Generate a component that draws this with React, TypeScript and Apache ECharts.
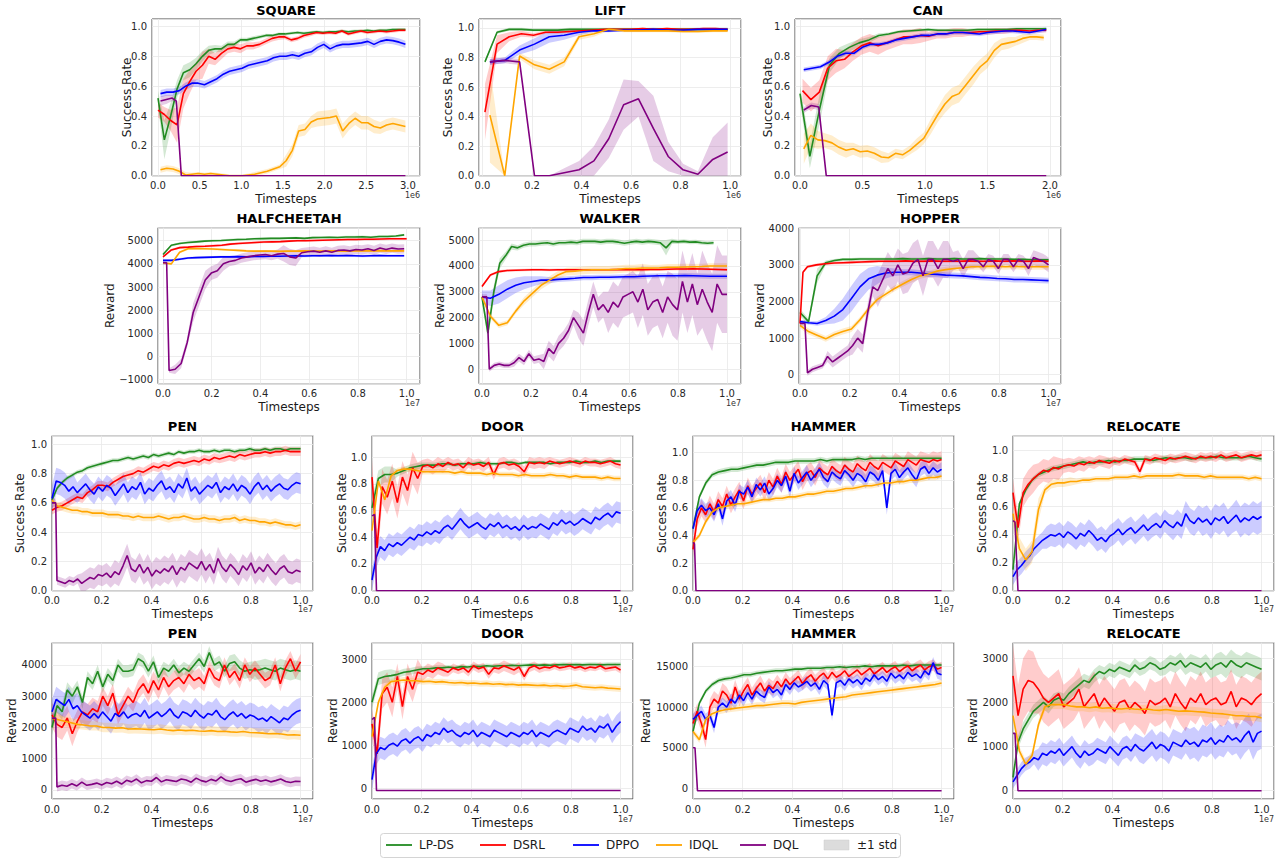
import { useEffect, useRef } from "react";
import * as echarts from "echarts";

const FONT = "'DejaVu Sans', 'Liberation Sans', sans-serif";

const METHODS = ["LP-DS", "DSRL", "DPPO", "IDQL", "DQL"];
const METHOD_COLORS = ["#228b22", "#ff0000", "#0000ff", "#ffa500", "#800080"];
const BAND_COLORS = ["rgba(34,139,34,0.2)", "rgba(255,0,0,0.2)", "rgba(0,0,255,0.2)", "rgba(255,165,0,0.2)", "rgba(128,0,128,0.2)"];

// evaluation checkpoints, evenly spaced between the first and last one
function steps(a: number, b: number, n: number): number[] {
  const out: number[] = [];
  for (let i = 0; i < n; i++) out.push(a + ((b - a) * i) / (n - 1));
  return out;
}

/* ---------------- SQUARE (timesteps x1e6) ---------------- */
const squareLpds = [0.52, 0.24, 0.4, 0.58, 0.69, 0.71, 0.75, 0.8, 0.84, 0.85, 0.85, 0.88, 0.88, 0.91, 0.91, 0.92, 0.93, 0.94, 0.94, 0.95, 0.95, 0.955, 0.96, 0.955, 0.96, 0.965, 0.96, 0.965, 0.965, 0.97, 0.965, 0.97, 0.97, 0.975, 0.97, 0.975, 0.975, 0.98, 0.98, 0.98];
const squareLpdsSd = [0.05, 0.13, 0.09, 0.06, 0.05, 0.05, 0.04, 0.035, 0.03, 0.025, 0.02, 0.02, 0.02, 0.015, 0.015, 0.015, 0.012, 0.012, 0.01, 0.01, 0.01, 0.01, 0.01, 0.01, 0.01, 0.01, 0.01, 0.01, 0.01, 0.01, 0.01, 0.01, 0.01, 0.01, 0.01, 0.01, 0.01, 0.01, 0.01, 0.01];
const squareDsrl = [0.44, 0.41, 0.37, 0.34, 0.55, 0.63, 0.7, 0.74, 0.8, 0.78, 0.82, 0.85, 0.86, 0.85, 0.87, 0.87, 0.88, 0.9, 0.92, 0.93, 0.93, 0.91, 0.92, 0.94, 0.95, 0.96, 0.955, 0.96, 0.955, 0.97, 0.95, 0.96, 0.97, 0.96, 0.965, 0.97, 0.965, 0.97, 0.975, 0.975];
const squareDsrlSd = [0.05, 0.05, 0.07, 0.12, 0.1, 0.08, 0.06, 0.09, 0.05, 0.04, 0.04, 0.03, 0.03, 0.03, 0.025, 0.025, 0.02, 0.02, 0.02, 0.02, 0.015, 0.015, 0.015, 0.015, 0.015, 0.012, 0.012, 0.012, 0.012, 0.012, 0.012, 0.012, 0.012, 0.012, 0.012, 0.012, 0.012, 0.012, 0.012, 0.012];
const squareDppo = [0.55, 0.56, 0.56, 0.57, 0.6, 0.62, 0.62, 0.61, 0.63, 0.65, 0.68, 0.7, 0.71, 0.72, 0.74, 0.75, 0.76, 0.77, 0.79, 0.8, 0.8, 0.81, 0.8, 0.82, 0.83, 0.86, 0.88, 0.85, 0.87, 0.88, 0.88, 0.885, 0.89, 0.9, 0.88, 0.9, 0.91, 0.905, 0.895, 0.88];
const squareDppoSd = [0.025];
const squareIdql = [0.04, 0.05, 0.045, 0.03, 0.005, 0.01, 0.015, 0.01, 0.015, 0.01, 0.005, 0, 0, 0, 0.005, 0.01, 0.02, 0.03, 0.045, 0.06, 0.1, 0.17, 0.3, 0.31, 0.36, 0.38, 0.385, 0.39, 0.4, 0.3, 0.35, 0.385, 0.355, 0.355, 0.33, 0.32, 0.34, 0.35, 0.34, 0.33];
const squareIdqlSd = [0.02, 0.01, 0.01, 0.015, 0.04, 0.05, 0.045, 0.04];
const squareDqlX = [0.03, 0.1, 0.17, 0.22, 0.28, 2.97];
const squareDql = [0.5, 0.51, 0.52, 0.5, 0, 0];
const squareDqlSd = [0.03, 0.03, 0.02, 0.02, 0, 0];

/* ---------------- LIFT (x1e6) ---------------- */
const liftLpds = [0.77, 0.97, 0.99, 0.99, 0.985, 0.985, 0.985, 0.99, 0.99, 0.99, 0.99, 0.99, 0.99, 0.99, 0.99, 0.99, 0.99, 0.99, 0.99, 0.99, 0.99];
const liftLpdsSd = [0.01];
const liftDsrl = [0.43, 0.89, 0.94, 0.96, 0.95, 0.97, 0.97, 0.975, 0.98, 0.985, 0.99, 0.99, 0.99, 0.995, 0.99, 0.995, 0.99, 0.99, 0.995, 0.995, 0.99];
const liftDsrlSd = [0.19, 0.06, 0.03, 0.02, 0.015, 0.01, 0.01, 0.01, 0.008, 0.008, 0.005, 0.005, 0.005, 0.005, 0.005, 0.005, 0.005, 0.005, 0.005, 0.005, 0.005];
const liftDppo = [0.77, 0.78, 0.85, 0.89, 0.94, 0.95, 0.97, 0.98, 0.98, 0.985, 0.985, 0.99, 0.985, 0.985, 0.99, 0.99, 0.99];
const liftDppoSd = [0.02, 0.02, 0.03, 0.04, 0.04, 0.03, 0.02, 0.01, 0.01, 0.01, 0.01, 0.01, 0.01, 0.01, 0.01, 0.01, 0.01];
const liftIdql = [0.41, 0, 0.81, 0.75, 0.72, 0.77, 0.94, 0.96, 0.99, 0.98, 0.98, 0.98, 0.98, 0.975, 0.975, 0.98, 0.98];
const liftIdqlSd = [0.32, 0, 0.02, 0.03, 0.03, 0.03, 0.02, 0.02, 0.01, 0.01, 0.01, 0.01, 0.01, 0.01, 0.01, 0.01, 0.01];
const liftDql = [0.77, 0.78, 0.77, 0, 0, 0.02, 0.04, 0.1, 0.25, 0.48, 0.52, 0.32, 0.13, 0.04, 0.01, 0.11, 0.16];
const liftDqlSd = [0.02, 0.02, 0.02, 0, 0, 0.03, 0.06, 0.1, 0.13, 0.17, 0.12, 0.22, 0.1, 0.04, 0.02, 0.15, 0.2];

/* ---------------- CAN (x1e6) ---------------- */
const canLpds = [0.55, 0.13, 0.45, 0.74, 0.82, 0.86, 0.89, 0.91, 0.94, 0.95, 0.965, 0.97, 0.975, 0.98, 0.975, 0.975, 0.975, 0.975, 0.98, 0.98, 0.98, 0.98, 0.985, 0.985, 0.985, 0.985];
const canLpdsSd = [0.06, 0.08, 0.1, 0.05, 0.04, 0.03, 0.025, 0.02, 0.015, 0.01, 0.01, 0.01, 0.01, 0.01, 0.01, 0.01, 0.01, 0.01, 0.01, 0.01, 0.01, 0.01, 0.01, 0.01, 0.01, 0.01];
const canDsrl = [0.57, 0.51, 0.56, 0.72, 0.77, 0.78, 0.83, 0.87, 0.89, 0.87, 0.89, 0.91, 0.93, 0.93, 0.94, 0.935, 0.95, 0.95, 0.96, 0.96, 0.96, 0.965, 0.965, 0.97, 0.97, 0.975, 0.975, 0.97, 0.975, 0.975];
const canDsrlSd = [0.08, 0.06, 0.05, 0.03, 0.02, 0.015];
const canDppo = [0.71, 0.72, 0.73, 0.76, 0.8, 0.82, 0.82, 0.86, 0.88, 0.88, 0.89, 0.91, 0.92, 0.93, 0.94, 0.94, 0.95, 0.95, 0.96, 0.96, 0.955, 0.95, 0.96, 0.965, 0.97, 0.97, 0.965, 0.96, 0.97, 0.98];
const canDppoSd = [0.015];
const canIdql = [0.18, 0.27, 0.24, 0.235, 0.22, 0.19, 0.17, 0.18, 0.16, 0.165, 0.15, 0.125, 0.12, 0.15, 0.14, 0.17, 0.21, 0.25, 0.33, 0.41, 0.48, 0.53, 0.55, 0.61, 0.67, 0.73, 0.77, 0.84, 0.88, 0.89, 0.9, 0.92, 0.93, 0.93, 0.925];
const canIdqlSd = [0.1, 0.08, 0.06, 0.05, 0.05, 0.05, 0.05, 0.04, 0.04, 0.04, 0.04, 0.04, 0.03, 0.03, 0.03, 0.03, 0.04, 0.04, 0.05, 0.05, 0.06, 0.06, 0.06, 0.06, 0.06, 0.05, 0.05, 0.05, 0.04, 0.04, 0.03, 0.03, 0.02, 0.02, 0.02];
const canDqlX = [0.03, 0.09, 0.15, 0.21, 1.97];
const canDql = [0.44, 0.47, 0.46, 0, 0];
const canDqlSd = [0.02, 0.02, 0.02, 0, 0];

/* ---------------- HALFCHEETAH (x1e7) ---------------- */
const cheetahLpds = [4400, 4800, 4880, 4920, 4950, 4980, 5000, 5010, 5030, 5050, 5060, 5080, 5090, 5100, 5100, 5110, 5120, 5100, 5130, 5140, 5150, 5140, 5160, 5160, 5170, 5150, 5180, 5180, 5200, 5250];
const cheetahDsrl = [4300, 4600, 4700, 4720, 4750, 4760, 4780, 4800, 4850, 4880, 4900, 4920, 4940, 4950, 4960, 4980, 5000, 5000, 5010, 5020, 5030, 5040, 5050, 5050, 5060, 5060, 5070, 5080, 5080, 5080];
const cheetahDppo = [4150, 4150, 4200, 4250, 4270, 4280, 4290, 4300, 4300, 4310, 4300, 4320, 4320, 4330, 4330, 4340, 4350, 4340, 4350, 4350, 4360, 4350, 4360, 4350, 4340, 4350, 4360, 4350, 4350, 4350];
const cheetahIdql = [4050, 4000, 4500, 4650, 4660, 4650, 4640, 4620, 4600, 4580, 4560, 4550, 4550, 4550, 4540, 4550, 4550, 4560, 4550, 4550, 4560, 4560, 4550, 4560, 4560, 4560, 4570, 4560, 4560, 4560];
const cheetahSmallSd = [50];
const cheetahDqlX = [0, 0.015, ...steps(0.025, 0.99, 40)];
const cheetahDql = [4050, 4050, -600, -550, -300, 600, 1900, 2600, 3300, 3600, 3700, 4000, 4100, 4150, 4250, 4300, 4350, 4380, 4400, 4350, 4420, 4450, 4300, 4250, 4480, 4520, 4550, 4500, 4560, 4500, 4580, 4600, 4560, 4620, 4600, 4650, 4580, 4680, 4620, 4680, 4640, 4650];
const cheetahDqlSd = [100, 200, 400, 300, 200, 200, 200, 350, 200, 200, 200, 200, 200, 200];

/* ---------------- WALKER (x1e7) ---------------- */
const walkerLpds = [2800, 1400, 3000, 4100, 4400, 4750, 4700, 4800, 4850, 4850, 4880, 4900, 4850, 4900, 4900, 4920, 4900, 4950, 4950, 4950, 4920, 4950, 4950, 4920, 4880, 4920, 4950, 4920, 4950, 4930, 4900, 4700, 4950, 4930, 4950, 4920, 4930, 4900, 4880, 4900];
const walkerLpdsSd = [150, 300, 250, 200, 150, 120, 100, 100, 100, 100, 100, 100, 100, 100, 100, 100, 100, 100, 100, 100, 100, 100, 100, 100, 100, 100, 100, 100, 100, 100, 100, 300, 100, 80, 80, 80, 80, 80, 80, 80];
const walkerDsrl = [3200, 3650, 3780, 3820, 3830, 3840, 3850, 3850, 3840, 3850, 3850, 3850, 3840, 3850, 3850, 3850, 3860, 3850, 3850, 3850, 3860, 3860, 3870, 3880, 3880, 3890, 3880, 3870, 3860, 3850];
const walkerDsrlSd = [50];
const walkerDppo = [2800, 2750, 2900, 3100, 3250, 3350, 3400, 3450, 3450, 3480, 3500, 3520, 3550, 3550, 3560, 3560, 3570, 3580, 3580, 3600, 3610, 3620, 3620, 3620, 3630, 3620, 3610, 3600, 3600, 3600];
const walkerDppoSd = [250, 300, 350, 350, 300, 250, 200, 150, 120, 100, 100, 100, 100, 100, 100, 100, 100, 100, 100, 100, 100, 100, 100, 100, 100, 100, 100, 100, 100, 100];
const walkerIdql = [2800, 2050, 1700, 1800, 2250, 2650, 2950, 3250, 3450, 3650, 3780, 3800, 3830, 3850, 3850, 3850, 3870, 3900, 3900, 3920, 3920, 3930, 3950, 3950, 3960, 3970, 3980, 4000, 4000, 4000];
const walkerIdqlSd = [100, 150, 150, 150, 120, 100];
const walkerDqlX = [0, 0.02, ...steps(0.03, 1.0, 49)];
const walkerDql = [2800, 2800, 0, 150, 200, 150, 150, 250, 450, 300, 600, 350, 400, 300, 800, 600, 1000, 1200, 1500, 2000, 1700, 1400, 2200, 2900, 2300, 2500, 2200, 2600, 2400, 2800, 2900, 3000, 2600, 3100, 2300, 2600, 2700, 2200, 2800, 2500, 2300, 3400, 2600, 3300, 2500, 3100, 2600, 2200, 3300, 2900, 2900];
const walkerDqlSd = [100, 150, 300, 500, 800, 1000, 1200, 1500];

/* ---------------- HOPPER (x1e7) ---------------- */
const hopperLpds = [1700, 1450, 2700, 3060, 3120, 3150, 3150, 3160, 3160, 3160, 3160, 3160, 3170, 3160, 3160, 3170, 3160, 3160, 3170, 3160, 3160, 3170, 3160, 3160, 3160, 3150, 3150, 3140, 3140, 3140];
const hopperLpdsSd = [100, 80, 200, 60, 40, 40, 40, 40, 40, 40, 40, 40, 40, 40, 40, 40, 40, 40, 40, 40, 40, 40, 40, 40, 40, 40, 40, 40, 40, 40];
const hopperDsrlX = [0, 0.012, ...steps(0.03, 1.0, 28)];
const hopperDsrl = [1400, 2800, 2950, 3000, 3030, 3050, 3060, 3070, 3080, 3090, 3100, 3100, 3100, 3110, 3100, 3100, 3110, 3100, 3100, 3100, 3110, 3100, 3100, 3110, 3100, 3110, 3100, 3100, 3110, 3100];
const hopperDsrlSd = [40];
const hopperDppo = [1450, 1420, 1400, 1480, 1600, 1780, 2080, 2400, 2620, 2720, 2780, 2800, 2800, 2800, 2780, 2750, 2740, 2720, 2710, 2700, 2680, 2660, 2650, 2630, 2620, 2600, 2600, 2590, 2580, 2570];
const hopperDppoSd = [50, 50, 60, 100, 200, 300, 350, 350, 300, 250, 150, 100, 80, 80, 80, 80, 80, 80, 80, 80, 80, 80, 80, 80, 80, 80, 80, 80, 80, 80];
const hopperIdql = [1350, 1180, 1080, 980, 1100, 1180, 1250, 1500, 1800, 2050, 2200, 2350, 2480, 2600, 2700, 2750, 2830, 2870, 2900, 2920, 2950, 2950, 2960, 2960, 2950, 2960, 2950, 2950, 2950, 2950];
const hopperIdqlSd = [80];
const hopperDqlX = [0, 0.02, ...steps(0.03, 1.0, 49)];
const hopperDql = [1400, 1400, 50, 150, 200, 250, 500, 350, 450, 550, 650, 800, 1000, 850, 1700, 2400, 2300, 2600, 2900, 2700, 3000, 2750, 2800, 3050, 3150, 2700, 3150, 3150, 2900, 3150, 3150, 3100, 3150, 2900, 3150, 3150, 3100, 2950, 3150, 3100, 2900, 3150, 3150, 2950, 3150, 3100, 2900, 3200, 3150, 3100, 3000];
const hopperDqlSd = [80, 150, 250, 450, 550, 500, 250, 150, 150, 200];

/* ---------------- PEN success (x1e7) ---------------- */
const penSrLpds = [0.62, 0.7, 0.74, 0.77, 0.79, 0.81, 0.82, 0.84, 0.85, 0.86, 0.87, 0.88, 0.89, 0.89, 0.9, 0.91, 0.9, 0.91, 0.92, 0.91, 0.93, 0.92, 0.93, 0.94, 0.93, 0.95, 0.94, 0.95, 0.95, 0.96, 0.95, 0.95, 0.96, 0.95, 0.96, 0.96, 0.95, 0.96, 0.96, 0.97, 0.96, 0.96, 0.97, 0.96, 0.97, 0.97, 0.96, 0.97, 0.97, 0.97];
const penSrDsrl = [0.55, 0.57, 0.58, 0.6, 0.62, 0.64, 0.63, 0.67, 0.69, 0.72, 0.72, 0.71, 0.74, 0.76, 0.78, 0.79, 0.8, 0.82, 0.81, 0.83, 0.85, 0.84, 0.86, 0.85, 0.87, 0.88, 0.87, 0.88, 0.89, 0.88, 0.9, 0.89, 0.91, 0.9, 0.91, 0.92, 0.91, 0.93, 0.92, 0.93, 0.94, 0.94, 0.95, 0.94, 0.95, 0.95, 0.96, 0.95, 0.95, 0.95];
const penSrDppo = [0.63, 0.75, 0.74, 0.72, 0.68, 0.71, 0.67, 0.7, 0.73, 0.69, 0.66, 0.71, 0.68, 0.72, 0.7, 0.65, 0.69, 0.73, 0.67, 0.71, 0.69, 0.74, 0.66, 0.7, 0.68, 0.72, 0.75, 0.69, 0.71, 0.67, 0.73, 0.7, 0.77, 0.68, 0.71, 0.66, 0.69, 0.72, 0.7, 0.74, 0.67, 0.71, 0.69, 0.73, 0.68, 0.72, 0.7, 0.66, 0.71, 0.74, 0.69, 0.72, 0.68, 0.71, 0.73, 0.7, 0.69, 0.72, 0.74, 0.73];
const penSrIdql = [0.62, 0.58, 0.57, 0.56, 0.55, 0.55, 0.54, 0.54, 0.53, 0.53, 0.53, 0.52, 0.52, 0.52, 0.51, 0.51, 0.5, 0.51, 0.5, 0.5, 0.5, 0.51, 0.5, 0.49, 0.5, 0.5, 0.51, 0.5, 0.49, 0.49, 0.5, 0.49, 0.49, 0.48, 0.49, 0.49, 0.5, 0.48, 0.49, 0.48, 0.48, 0.47, 0.47, 0.46, 0.47, 0.46, 0.45, 0.45, 0.44, 0.45];
const penSrDqlX = [0, 0.015, ...steps(0.02, 1.0, 60)];
const penSrDql = [0.6, 0.6, 0.07, 0.06, 0.05, 0.07, 0.06, 0.08, 0.05, 0.07, 0.09, 0.08, 0.11, 0.1, 0.12, 0.09, 0.13, 0.11, 0.17, 0.24, 0.15, 0.13, 0.18, 0.12, 0.16, 0.1, 0.14, 0.12, 0.15, 0.13, 0.17, 0.11, 0.16, 0.14, 0.19, 0.17, 0.15, 0.2, 0.14, 0.18, 0.12, 0.22, 0.16, 0.13, 0.18, 0.15, 0.11, 0.17, 0.14, 0.19, 0.12, 0.16, 0.13, 0.18, 0.14, 0.11, 0.15, 0.17, 0.13, 0.12, 0.14, 0.13];

/* ---------------- DOOR success (x1e7) ---------------- */
const doorSrLpds = [0.62, 0.84, 0.87, 0.87, 0.88, 0.9, 0.92, 0.93, 0.94, 0.94, 0.94, 0.95, 0.95, 0.94, 0.95, 0.95, 0.95, 0.96, 0.95, 0.95, 0.95, 0.96, 0.96, 0.95, 0.96, 0.96, 0.96, 0.96, 0.95, 0.96, 0.96, 0.96, 0.97, 0.96, 0.96, 0.97, 0.96, 0.97, 0.97, 0.97];
const doorSrLpdsSd = [0.06, 0.025, 0.02, 0.015, 0.015, 0.012, 0.012, 0.012, 0.012, 0.012];
const doorSrDsrl = [0.85, 0.32, 0.78, 0.7, 0.82, 0.66, 0.85, 0.75, 0.92, 0.84, 0.93, 0.94, 0.92, 0.95, 0.93, 0.96, 0.94, 0.95, 0.92, 0.96, 0.94, 0.95, 0.93, 0.96, 0.87, 0.95, 0.96, 0.94, 0.95, 0.93, 0.89, 0.96, 0.95, 0.96, 0.95, 0.97, 0.96, 0.95, 0.96, 0.97, 0.96, 0.95, 0.97, 0.96, 0.96, 0.95, 0.96, 0.97, 0.95, 0.94];
const doorSrDsrlSd = [0.13, 0.12, 0.05, 0.04, 0.04, 0.04, 0.04, 0.03, 0.03, 0.03];
const doorSrDppo = [0.08, 0.25, 0.33, 0.3, 0.35, 0.33, 0.36, 0.34, 0.37, 0.4, 0.38, 0.42, 0.41, 0.44, 0.42, 0.45, 0.43, 0.47, 0.49, 0.46, 0.5, 0.54, 0.5, 0.47, 0.49, 0.51, 0.48, 0.46, 0.5, 0.48, 0.51, 0.47, 0.49, 0.46, 0.48, 0.45, 0.49, 0.46, 0.48, 0.47, 0.5, 0.48, 0.46, 0.51, 0.49, 0.53, 0.5, 0.52, 0.49, 0.51, 0.54, 0.52, 0.5, 0.55, 0.53, 0.56, 0.58, 0.55, 0.59, 0.58];
const doorSrIdql = [0.45, 0.82, 0.68, 0.86, 0.9, 0.91, 0.91, 0.9, 0.89, 0.89, 0.89, 0.89, 0.89, 0.88, 0.89, 0.88, 0.88, 0.88, 0.87, 0.88, 0.87, 0.87, 0.87, 0.86, 0.87, 0.86, 0.86, 0.86, 0.87, 0.86, 0.86, 0.85, 0.86, 0.85, 0.85, 0.85, 0.84, 0.85, 0.84, 0.84];
const doorSrDqlX = [0, 0.01, 0.018, 1.0];
const doorSrDql = [0.56, 0.57, 0, 0];

/* ---------------- HAMMER success (x1e7) ---------------- */
const hammerSrLpds = [0.45, 0.68, 0.78, 0.84, 0.86, 0.87, 0.88, 0.88, 0.89, 0.9, 0.91, 0.91, 0.92, 0.93, 0.93, 0.93, 0.94, 0.94, 0.94, 0.94, 0.95, 0.94, 0.95, 0.95, 0.95, 0.95, 0.96, 0.95, 0.96, 0.96, 0.96, 0.96, 0.96, 0.96, 0.96, 0.96, 0.96, 0.96, 0.96, 0.96];
const hammerSrDsrl = [0.3, 0.52, 0.6, 0.55, 0.63, 0.57, 0.66, 0.61, 0.7, 0.62, 0.68, 0.73, 0.65, 0.76, 0.7, 0.74, 0.78, 0.71, 0.8, 0.75, 0.83, 0.77, 0.86, 0.8, 0.84, 0.88, 0.79, 0.85, 0.87, 0.82, 0.89, 0.86, 0.84, 0.9, 0.87, 0.85, 0.91, 0.88, 0.86, 0.92, 0.89, 0.87, 0.93, 0.9, 0.88, 0.93, 0.91, 0.89, 0.94, 0.92, 0.9, 0.95, 0.93, 0.91, 0.95, 0.94, 0.93, 0.95, 0.94, 0.95];
const hammerSrDppo = [0.45, 0.58, 0.62, 0.58, 0.6, 0.55, 0.63, 0.52, 0.65, 0.68, 0.62, 0.72, 0.7, 0.75, 0.68, 0.77, 0.73, 0.78, 0.7, 0.74, 0.8, 0.76, 0.83, 0.72, 0.85, 0.78, 0.82, 0.86, 0.8, 0.84, 0.88, 0.82, 0.79, 0.86, 0.83, 0.81, 0.87, 0.84, 0.8, 0.85, 0.83, 0.79, 0.86, 0.84, 0.8, 0.87, 0.6, 0.85, 0.88, 0.82, 0.86, 0.89, 0.84, 0.8, 0.88, 0.9, 0.85, 0.89, 0.86, 0.88];
const hammerSrIdql = [0.35, 0.4, 0.5, 0.57, 0.6, 0.61, 0.62, 0.63, 0.63, 0.64, 0.65, 0.66, 0.66, 0.67, 0.67, 0.68, 0.68, 0.69, 0.7, 0.7, 0.71, 0.72, 0.72, 0.73, 0.74, 0.74, 0.75, 0.76, 0.76, 0.77, 0.78, 0.78, 0.79, 0.79, 0.8, 0.8, 0.81, 0.82, 0.82, 0.83];
const hammerSrDqlX = [0, 0.006, 0.012, 1.0];
const hammerSrDql = [0.35, 0.34, 0, 0];

/* ---------------- RELOCATE success (x1e7) ---------------- */
const relocSrLpds = [0.15, 0.62, 0.72, 0.79, 0.83, 0.85, 0.87, 0.88, 0.89, 0.9, 0.91, 0.92, 0.91, 0.92, 0.92, 0.93, 0.92, 0.93, 0.93, 0.94, 0.94, 0.94, 0.93, 0.94, 0.95, 0.94, 0.95, 0.95, 0.94, 0.95, 0.95, 0.95, 0.96, 0.95, 0.95, 0.95, 0.95, 0.96, 0.95, 0.94];
const relocSrDsrl = [0.7, 0.45, 0.7, 0.76, 0.8, 0.83, 0.86, 0.85, 0.88, 0.87, 0.89, 0.9, 0.89, 0.91, 0.9, 0.92, 0.91, 0.93, 0.92, 0.91, 0.93, 0.92, 0.94, 0.93, 0.92, 0.85, 0.94, 0.93, 0.95, 0.94, 0.93, 0.95, 0.94, 0.95, 0.96, 0.95, 0.94, 0.96, 0.95, 0.96, 0.95, 0.97, 0.95, 0.96, 0.97, 0.95, 0.96, 0.97, 0.96, 0.97];
const relocSrDsrlSd = [0.1, 0.08, 0.05, 0.04, 0.03, 0.03, 0.03, 0.03, 0.03, 0.03];
const relocSrDppo = [0.1, 0.15, 0.18, 0.22, 0.25, 0.3, 0.33, 0.36, 0.38, 0.4, 0.39, 0.41, 0.38, 0.42, 0.4, 0.37, 0.41, 0.39, 0.43, 0.4, 0.36, 0.38, 0.35, 0.39, 0.41, 0.44, 0.4, 0.43, 0.45, 0.41, 0.44, 0.47, 0.43, 0.46, 0.48, 0.45, 0.5, 0.47, 0.45, 0.49, 0.46, 0.55, 0.5, 0.48, 0.52, 0.49, 0.51, 0.47, 0.52, 0.5, 0.53, 0.48, 0.51, 0.54, 0.49, 0.52, 0.5, 0.53, 0.51, 0.53];
const relocSrDppoSd = [0.06, 0.08, 0.08, 0.08, 0.08, 0.09, 0.1, 0.11];
const relocSrIdql = [0.55, 0.3, 0.22, 0.28, 0.58, 0.72, 0.76, 0.77, 0.77, 0.78, 0.78, 0.79, 0.79, 0.8, 0.8, 0.8, 0.81, 0.81, 0.81, 0.82, 0.81, 0.82, 0.82, 0.82, 0.82, 0.82, 0.83, 0.82, 0.82, 0.82, 0.81, 0.82, 0.81, 0.81, 0.81, 0.81, 0.81, 0.8, 0.81, 0.8];
const relocSrIdqlSd = [0.08, 0.03, 0.02, 0.02, 0.02, 0.02, 0.02, 0.02];
const relocSrDqlX = [0, 0.008, 0.02, 1.0];
const relocSrDql = [0.5, 0.49, 0, 0];

/* ---------------- PEN reward (x1e7) ---------------- */
const penRwLpds = [2000, 2700, 2500, 3200, 3000, 3300, 2800, 3600, 3400, 3800, 3300, 3700, 3500, 4000, 3800, 3800, 3850, 4200, 4100, 3800, 4100, 3600, 3900, 3800, 4000, 3750, 3900, 3800, 4000, 4200, 3950, 4400, 4000, 4100, 3800, 4050, 4100, 3900, 3800, 3850, 3820, 3850, 3900, 3850, 3800, 3900, 3850, 3800, 3850, 3800];
const penRwLpdsSd = [250, 200, 200, 200, 200, 200, 200, 250, 300, 300];
const penRwDsrl = [2400, 2100, 2000, 2300, 1800, 2200, 2500, 2400, 2600, 2500, 3000, 2700, 3100, 2400, 2700, 3000, 2800, 3200, 3400, 3100, 3500, 3200, 3600, 3300, 3500, 3600, 3400, 3700, 3500, 3600, 3400, 3900, 3600, 3500, 4000, 3600, 3800, 3500, 4000, 3700, 3900, 3700, 3500, 3600, 4000, 3400, 3900, 4200, 3800, 4100];
const penRwDsrlSd = [400, 350, 300, 300, 300, 300, 250, 250, 250, 250];
const penRwDppo = [2500, 2900, 2800, 2700, 2900, 2600, 2700, 2500, 2400, 2300, 2450, 2300, 2500, 2350, 2200, 2450, 2350, 2500, 2300, 2400, 2450, 2350, 2550, 2300, 2400, 2500, 2350, 2450, 2600, 2400, 2300, 2500, 2450, 2350, 2550, 2400, 2300, 2450, 2400, 2550, 2350, 2250, 2400, 2500, 2350, 2450, 2300, 2400, 2350, 2250, 2300, 2200, 2350, 2250, 2150, 2300, 2250, 2400, 2500, 2550];
const penRwDppoSd = [400];
const penRwIdql = [2300, 2250, 2200, 2150, 2100, 2080, 2050, 2050, 2000, 2000, 1980, 1990, 1950, 1960, 1950, 1940, 1930, 1950, 1920, 1900, 1920, 1900, 1910, 1890, 1880, 1900, 1870, 1880, 1860, 1850, 1870, 1840, 1830, 1820, 1800, 1810, 1790, 1760, 1770, 1750];
const penRwIdqlSd = [150];
const penRwDqlX = [0, 0.015, ...steps(0.02, 1.0, 50)];
const penRwDql = [2300, 2300, 100, 150, 120, 200, 130, 250, 150, 180, 220, 160, 240, 200, 280, 190, 310, 260, 350, 230, 300, 280, 400, 260, 330, 300, 270, 350, 320, 250, 380, 300, 260, 340, 290, 420, 310, 270, 330, 360, 250, 300, 340, 280, 320, 260, 300, 350, 270, 240, 280, 270];
const penRwDqlSd = [150];

/* ---------------- DOOR reward (x1e7) ---------------- */
const doorRwLpds = [2000, 2550, 2600, 2620, 2650, 2700, 2720, 2750, 2780, 2780, 2800, 2800, 2820, 2800, 2830, 2820, 2840, 2830, 2850, 2840, 2850, 2850, 2860, 2850, 2860, 2870, 2860, 2870, 2860, 2870, 2880, 2870, 2880, 2870, 2880, 2880, 2870, 2880, 2880, 2880];
const doorRwLpdsSd = [150, 80, 60, 50, 50, 50, 50, 50, 50, 50];
const doorRwDsrl = [1500, 800, 2200, 2350, 2000, 2600, 1900, 2600, 2300, 2700, 2650, 2750, 2700, 2800, 2750, 2700, 2800, 2750, 2800, 2700, 2850, 2780, 2820, 2650, 2800, 2780, 2850, 2800, 2750, 2820, 2600, 2800, 2850, 2780, 2820, 2800, 2850, 2800, 2820, 2850, 2800, 2830, 2780, 2820, 2800, 2850, 2780, 2800, 2820, 2750];
const doorRwDsrlSd = [350, 300, 150, 100, 100, 120, 100, 80, 80, 80];
const doorRwDppo = [200, 800, 950, 900, 1000, 1050, 980, 1100, 1150, 1050, 1150, 1200, 1100, 1250, 1200, 1300, 1250, 1400, 1300, 1350, 1250, 1200, 1300, 1250, 1350, 1200, 1300, 1250, 1200, 1350, 1300, 1250, 1200, 1300, 1250, 1200, 1300, 1250, 1350, 1200, 1300, 1250, 1200, 1300, 1350, 1300, 1250, 1400, 1350, 1300, 1450, 1350, 1400, 1300, 1450, 1400, 1500, 1300, 1450, 1550];
const doorRwDppoSd = [250];
const doorRwIdql = [1200, 2000, 2350, 2480, 2500, 2520, 2500, 2500, 2480, 2490, 2470, 2480, 2460, 2450, 2460, 2440, 2450, 2430, 2440, 2420, 2430, 2410, 2420, 2400, 2410, 2400, 2390, 2400, 2380, 2390, 2370, 2380, 2400, 2360, 2350, 2340, 2350, 2330, 2320, 2310];
const doorRwIdqlSd = [70];
const doorRwDqlX = [0, 0.01, 0.018, 1.0];
const doorRwDql = [1600, 1650, -50, -50];

/* ---------------- HAMMER reward (x1e7) ---------------- */
const hammerRwLpds = [7000, 10500, 12000, 12800, 13300, 13500, 13600, 13800, 14000, 14000, 14200, 14300, 14400, 14500, 14500, 14600, 14700, 14700, 14800, 14800, 14800, 14900, 14900, 15000, 14900, 15000, 15000, 15100, 15000, 15100, 15100, 15100, 15100, 15200, 15100, 15200, 15200, 15200, 15200, 15200];
const hammerRwLpdsSd = [300];
const hammerRwDsrl = [8000, 9500, 8000, 6000, 10000, 11000, 10500, 12000, 11500, 10500, 12500, 11000, 12000, 12800, 11500, 12300, 13000, 12000, 12700, 12300, 13200, 12500, 13500, 12800, 13300, 13800, 12900, 13600, 14000, 13200, 13800, 14200, 13500, 14300, 13700, 14000, 14500, 13800, 14200, 14600, 14000, 14400, 14800, 14100, 14500, 14900, 14300, 14700, 15000, 14400, 14800, 15100, 14500, 14900, 15200, 14600, 15000, 15200, 14700, 14900];
const hammerRwDsrlSd = [1000, 900, 800, 700, 700, 700];
const hammerRwDppo = [8500, 9000, 9500, 8500, 9000, 7500, 10000, 10500, 10000, 11000, 10500, 11500, 10800, 11800, 11000, 12000, 11500, 11200, 12500, 11800, 12200, 11500, 12800, 12200, 13000, 12500, 12800, 13200, 12600, 13000, 12200, 13300, 12800, 9000, 13000, 13300, 12700, 13500, 13000, 13400, 12800, 13600, 13200, 14000, 13400, 13800, 13200, 14200, 13600, 14000, 13500, 14300, 13800, 14100, 13600, 14500, 14000, 15500, 14200, 14000];
const hammerRwDppoSd = [700];
const hammerRwIdql = [7000, 6000, 8500, 9200, 9500, 9700, 9800, 9900, 10000, 10100, 10200, 10200, 10300, 10400, 10500, 10500, 10400, 10600, 10700, 10800, 10900, 11000, 11100, 11200, 11300, 11500, 11600, 11700, 11800, 11900, 12000, 12100, 12200, 12300, 12400, 12500, 12600, 12700, 12800, 13000];
const hammerRwIdqlSd = [400];
const hammerRwDqlX = [0, 0.008, 0.018, 1.0];
const hammerRwDql = [5000, 5000, -300, -300];

/* ---------------- RELOCATE reward (x1e7) ---------------- */
const relocRwLpds = [300, 1100, 1400, 1600, 1800, 1900, 2000, 1900, 2050, 2100, 2050, 2200, 2300, 2400, 2500, 2450, 2600, 2700, 2650, 2750, 2700, 2800, 2750, 2700, 2850, 2750, 2800, 2900, 2850, 2750, 2800, 2900, 2850, 2950, 2800, 2900, 2850, 2800, 2900, 2750, 2850, 2900, 2800, 2950, 2850, 2800, 2900, 2850, 2800, 2750];
const relocRwLpdsSd = [150, 150, 150, 150, 150, 150, 180, 200, 250, 250];
const relocRwDsrl = [2600, 1700, 2300, 2500, 2450, 2300, 2100, 2000, 2100, 2200, 1900, 2000, 2100, 2300, 1900, 2050, 2200, 1900, 2100, 1950, 1800, 2000, 2050, 1850, 2000, 1900, 1750, 2050, 1950, 2000, 2100, 1900, 2200, 2000, 1850, 2100, 2000, 2200, 1950, 2050, 2100, 1950, 2000, 2250, 1900, 2100, 2050, 1950, 2100, 2200];
const relocRwDsrlSd = [700, 550, 500, 500, 500, 500, 500, 500, 500, 500];
const relocRwDppo = [200, 350, 500, 600, 650, 750, 700, 850, 800, 900, 850, 950, 800, 900, 1000, 850, 750, 900, 800, 850, 950, 900, 850, 1000, 900, 800, 950, 1000, 900, 1050, 950, 900, 1000, 1100, 950, 1050, 1000, 900, 1100, 1050, 1000, 1150, 1050, 1100, 1000, 1150, 1100, 1200, 1050, 1150, 1100, 1250, 1150, 1200, 1100, 1250, 1350, 1100, 1300, 1350];
const relocRwDppoSd = [150, 250, 250, 250, 250, 300, 300, 350, 350, 400];
const relocRwIdql = [1700, 900, 600, 800, 1500, 1900, 1950, 1950, 1950, 1920, 1900, 1900, 1880, 1900, 1870, 1880, 1860, 1850, 1870, 1850, 1840, 1850, 1830, 1820, 1840, 1820, 1800, 1810, 1800, 1790, 1780, 1760, 1750, 1740, 1720, 1700, 1700, 1680, 1680, 1650];
const relocRwIdqlSd = [100];
const relocRwDqlX = [0, 0.008, 0.02, 1.0];
const relocRwDql = [1300, 1300, 0, 0];

/* ---------------- panel layout ---------------- */
type Run = { m: number; x: number[]; y: number[]; sd: number[] };
type Panel = {
  title: string;
  ylabel: string;
  box: [number, number, number, number];
  xr: [number, number, number];
  yr: [number, number, number];
  yDec: number;
  exp: string;
  expDy: number;
  ylabelX: number;
  runs: Run[];
};

const even = (a: number, b: number, y: number[]) => steps(a, b, y.length);
const zero = [0];

const ROW1 = { top: 19, h: 156.7 };
const ROW2 = { top: 227.7, h: 156 };
const ROW3 = { top: 435.7, h: 155 };
const ROW4 = { top: 642.7, h: 156.3 };
const COLS4 = [52, 372, 693, 1013];

const panels: Panel[] = [
  {
    title: "SQUARE", ylabel: "Success Rate", box: [152, ROW1.top, 268, ROW1.h],
    xr: [-0.072, 3.145, 0.5], yr: [0, 1.05, 0.2], yDec: 1, exp: "1e6", expDy: 20, ylabelX: 127,
    runs: [
      { m: 0, x: even(0, 2.97, squareLpds), y: squareLpds, sd: squareLpdsSd },
      { m: 1, x: even(0, 2.97, squareDsrl), y: squareDsrl, sd: squareDsrlSd },
      { m: 2, x: even(0.03, 2.97, squareDppo), y: squareDppo, sd: squareDppoSd },
      { m: 3, x: even(0.03, 2.97, squareIdql), y: squareIdql, sd: squareIdqlSd },
      { m: 4, x: squareDqlX, y: squareDql, sd: squareDqlSd },
    ],
  },
  {
    title: "LIFT", ylabel: "Success Rate", box: [479, ROW1.top, 262, ROW1.h],
    xr: [-0.014, 1.044, 0.2], yr: [0, 1.06, 0.2], yDec: 1, exp: "1e6", expDy: 20, ylabelX: 448,
    runs: [
      { m: 0, x: even(0.01, 0.99, liftLpds), y: liftLpds, sd: liftLpdsSd },
      { m: 1, x: even(0.01, 0.99, liftDsrl), y: liftDsrl, sd: liftDsrlSd },
      { m: 2, x: even(0.03, 0.99, liftDppo), y: liftDppo, sd: liftDppoSd },
      { m: 3, x: even(0.03, 0.99, liftIdql), y: liftIdql, sd: liftIdqlSd },
      { m: 4, x: even(0.03, 0.99, liftDql), y: liftDql, sd: liftDqlSd },
    ],
  },
  {
    title: "CAN", ylabel: "Success Rate", box: [795, ROW1.top, 266, ROW1.h],
    xr: [-0.04, 2.088, 0.5], yr: [0, 1.05, 0.2], yDec: 1, exp: "1e6", expDy: 20, ylabelX: 768,
    runs: [
      { m: 0, x: even(0, 1.97, canLpds), y: canLpds, sd: canLpdsSd },
      { m: 1, x: even(0.02, 1.97, canDsrl), y: canDsrl, sd: canDsrlSd },
      { m: 2, x: even(0.03, 1.97, canDppo), y: canDppo, sd: canDppoSd },
      { m: 3, x: even(0.03, 1.95, canIdql), y: canIdql, sd: canIdqlSd },
      { m: 4, x: canDqlX, y: canDql, sd: canDqlSd },
    ],
  },
  {
    title: "HALFCHEETAH", ylabel: "Reward", box: [158, ROW2.top, 262, ROW2.h],
    xr: [-0.0205, 1.055, 0.2], yr: [-1172, 5560, 1000], yDec: 0, exp: "1e7", expDy: 20, ylabelX: 110,
    runs: [
      { m: 0, x: even(0, 0.99, cheetahLpds), y: cheetahLpds, sd: cheetahSmallSd },
      { m: 1, x: even(0, 1.0, cheetahDsrl), y: cheetahDsrl, sd: cheetahSmallSd },
      { m: 2, x: even(0, 0.99, cheetahDppo), y: cheetahDppo, sd: cheetahSmallSd },
      { m: 3, x: even(0, 0.99, cheetahIdql), y: cheetahIdql, sd: cheetahSmallSd },
      { m: 4, x: cheetahDqlX, y: cheetahDql, sd: cheetahDqlSd },
    ],
  },
  {
    title: "WALKER", ylabel: "Reward", box: [479, ROW2.top, 262, ROW2.h],
    xr: [-0.012, 1.057, 0.2], yr: [-560, 5480, 1000], yDec: 0, exp: "1e7", expDy: 20, ylabelX: 440,
    runs: [
      { m: 0, x: even(0, 0.945, walkerLpds), y: walkerLpds, sd: walkerLpdsSd },
      { m: 1, x: even(0, 1.0, walkerDsrl), y: walkerDsrl, sd: walkerDsrlSd },
      { m: 2, x: even(0, 1.0, walkerDppo), y: walkerDppo, sd: walkerDppoSd },
      { m: 3, x: even(0, 1.0, walkerIdql), y: walkerIdql, sd: walkerIdqlSd },
      { m: 4, x: walkerDqlX, y: walkerDql, sd: walkerDqlSd },
    ],
  },
  {
    title: "HOPPER", ylabel: "Reward", box: [799, ROW2.top, 262, ROW2.h],
    xr: [-0.004, 1.05, 0.2], yr: [-245, 4016, 1000], yDec: 0, exp: "1e7", expDy: 20, ylabelX: 760,
    runs: [
      { m: 0, x: even(0, 1.0, hopperLpds), y: hopperLpds, sd: hopperLpdsSd },
      { m: 1, x: hopperDsrlX, y: hopperDsrl, sd: hopperDsrlSd },
      { m: 2, x: even(0, 1.0, hopperDppo), y: hopperDppo, sd: hopperDppoSd },
      { m: 3, x: even(0, 1.0, hopperIdql), y: hopperIdql, sd: hopperIdqlSd },
      { m: 4, x: hopperDqlX, y: hopperDql, sd: hopperDqlSd },
    ],
  },
  {
    title: "PEN", ylabel: "Success Rate", box: [COLS4[0], ROW3.top, 261, ROW3.h],
    xr: [0, 1.05, 0.2], yr: [0, 1.059, 0.2], yDec: 1, exp: "1e7", expDy: 19, ylabelX: 20,
    runs: [
      { m: 0, x: even(0, 1.0, penSrLpds), y: penSrLpds, sd: [0.015] },
      { m: 1, x: even(0, 1.0, penSrDsrl), y: penSrDsrl, sd: [0.03] },
      { m: 2, x: even(0, 1.0, penSrDppo), y: penSrDppo, sd: [0.09, 0.07, 0.07, 0.07, 0.07, 0.07, 0.07, 0.07, 0.07, 0.07] },
      { m: 3, x: even(0, 1.0, penSrIdql), y: penSrIdql, sd: [0.025] },
      { m: 4, x: penSrDqlX, y: penSrDql, sd: [0.03, 0.07, 0.08, 0.09, 0.09, 0.08, 0.08, 0.08] },
    ],
  },
  {
    title: "DOOR", ylabel: "Success Rate", box: [COLS4[1], ROW3.top, 261, ROW3.h],
    xr: [0, 1.05, 0.2], yr: [0, 1.16, 0.2], yDec: 1, exp: "1e7", expDy: 19, ylabelX: 342,
    runs: [
      { m: 0, x: even(0, 1.0, doorSrLpds), y: doorSrLpds, sd: doorSrLpdsSd },
      { m: 1, x: even(0, 1.0, doorSrDsrl), y: doorSrDsrl, sd: doorSrDsrlSd },
      { m: 2, x: even(0, 1.0, doorSrDppo), y: doorSrDppo, sd: [0.08] },
      { m: 3, x: even(0, 1.0, doorSrIdql), y: doorSrIdql, sd: [0.02] },
      { m: 4, x: doorSrDqlX, y: doorSrDql, sd: zero },
    ],
  },
  {
    title: "HAMMER", ylabel: "Success Rate", box: [COLS4[2], ROW3.top, 261, ROW3.h],
    xr: [0, 1.05, 0.2], yr: [0, 1.123, 0.2], yDec: 1, exp: "1e7", expDy: 19, ylabelX: 662,
    runs: [
      { m: 0, x: even(0, 1.0, hammerSrLpds), y: hammerSrLpds, sd: [0.02] },
      { m: 1, x: even(0, 1.0, hammerSrDsrl), y: hammerSrDsrl, sd: [0.06] },
      { m: 2, x: even(0, 1.0, hammerSrDppo), y: hammerSrDppo, sd: [0.05] },
      { m: 3, x: even(0, 1.0, hammerSrIdql), y: hammerSrIdql, sd: [0.02] },
      { m: 4, x: hammerSrDqlX, y: hammerSrDql, sd: zero },
    ],
  },
  {
    title: "RELOCATE", ylabel: "Success Rate", box: [COLS4[3], ROW3.top, 261, ROW3.h],
    xr: [0, 1.05, 0.2], yr: [0, 1.107, 0.2], yDec: 1, exp: "1e7", expDy: 19, ylabelX: 982,
    runs: [
      { m: 0, x: even(0, 1.0, relocSrLpds), y: relocSrLpds, sd: [0.02] },
      { m: 1, x: even(0, 1.0, relocSrDsrl), y: relocSrDsrl, sd: relocSrDsrlSd },
      { m: 2, x: even(0, 1.0, relocSrDppo), y: relocSrDppo, sd: relocSrDppoSd },
      { m: 3, x: even(0, 1.0, relocSrIdql), y: relocSrIdql, sd: relocSrIdqlSd },
      { m: 4, x: relocSrDqlX, y: relocSrDql, sd: zero },
    ],
  },
  {
    title: "PEN", ylabel: "Reward", box: [COLS4[0], ROW4.top, 261, ROW4.h],
    xr: [0, 1.05, 0.2], yr: [-288, 4713, 1000], yDec: 0, exp: "1e7", expDy: 20, ylabelX: 12,
    runs: [
      { m: 0, x: even(0, 1.0, penRwLpds), y: penRwLpds, sd: penRwLpdsSd },
      { m: 1, x: even(0, 1.0, penRwDsrl), y: penRwDsrl, sd: penRwDsrlSd },
      { m: 2, x: even(0, 1.0, penRwDppo), y: penRwDppo, sd: penRwDppoSd },
      { m: 3, x: even(0, 1.0, penRwIdql), y: penRwIdql, sd: penRwIdqlSd },
      { m: 4, x: penRwDqlX, y: penRwDql, sd: penRwDqlSd },
    ],
  },
  {
    title: "DOOR", ylabel: "Reward", box: [COLS4[1], ROW4.top, 261, ROW4.h],
    xr: [0, 1.05, 0.2], yr: [-249, 3386, 1000], yDec: 0, exp: "1e7", expDy: 20, ylabelX: 333,
    runs: [
      { m: 0, x: even(0, 1.0, doorRwLpds), y: doorRwLpds, sd: doorRwLpdsSd },
      { m: 1, x: even(0, 1.0, doorRwDsrl), y: doorRwDsrl, sd: doorRwDsrlSd },
      { m: 2, x: even(0, 1.0, doorRwDppo), y: doorRwDppo, sd: doorRwDppoSd },
      { m: 3, x: even(0, 1.0, doorRwIdql), y: doorRwIdql, sd: doorRwIdqlSd },
      { m: 4, x: doorRwDqlX, y: doorRwDql, sd: zero },
    ],
  },
  {
    title: "HAMMER", ylabel: "Reward", box: [COLS4[2], ROW4.top, 261, ROW4.h],
    xr: [0, 1.05, 0.2], yr: [-1320, 17960, 5000], yDec: 0, exp: "1e7", expDy: 20, ylabelX: 646,
    runs: [
      { m: 0, x: even(0, 1.0, hammerRwLpds), y: hammerRwLpds, sd: hammerRwLpdsSd },
      { m: 1, x: even(0, 1.0, hammerRwDsrl), y: hammerRwDsrl, sd: hammerRwDsrlSd },
      { m: 2, x: even(0, 1.0, hammerRwDppo), y: hammerRwDppo, sd: hammerRwDppoSd },
      { m: 3, x: even(0, 1.0, hammerRwIdql), y: hammerRwIdql, sd: hammerRwIdqlSd },
      { m: 4, x: hammerRwDqlX, y: hammerRwDql, sd: zero },
    ],
  },
  {
    title: "RELOCATE", ylabel: "Reward", box: [COLS4[3], ROW4.top, 261, ROW4.h],
    xr: [0, 1.05, 0.2], yr: [-188, 3354, 1000], yDec: 0, exp: "1e7", expDy: 20, ylabelX: 973,
    runs: [
      { m: 0, x: even(0, 1.0, relocRwLpds), y: relocRwLpds, sd: relocRwLpdsSd },
      { m: 1, x: even(0, 1.0, relocRwDsrl), y: relocRwDsrl, sd: relocRwDsrlSd },
      { m: 2, x: even(0, 1.0, relocRwDppo), y: relocRwDppo, sd: relocRwDppoSd },
      { m: 3, x: even(0, 1.0, relocRwIdql), y: relocRwIdql, sd: relocRwIdqlSd },
      { m: 4, x: relocRwDqlX, y: relocRwDql, sd: zero },
    ],
  },
];

function sdAt(sd: number[], k: number, n: number): number {
  if (sd.length === n) return sd[k];
  return sd[Math.min(sd.length - 1, Math.floor((k * sd.length) / n))];
}

function tickText(v: number, interval: number, dec: number): string {
  const r = v / interval;
  if (Math.abs(r - Math.round(r)) > 1e-6) return "";
  const s = (Math.round(r) * interval).toFixed(dec);
  return s.charAt(0) === "-" ? "\u2212" + s.slice(1) : s;
}

// ±1 std band: one polygon per run, upper edge forward and lower edge back
function bandRenderer(fill: string) {
  return (params: any, api: any) => {
    if (params.dataIndexInside !== 0) return null;
    const n = params.dataInsideLength;
    const upper: number[][] = [];
    const lower: number[][] = [];
    for (let k = 0; k < n; k++) {
      const x = api.value(0, k);
      upper.push(api.coord([x, api.value(2, k)]));
      lower.push(api.coord([x, api.value(1, k)]));
    }
    const cs = params.coordSys;
    return {
      type: "polygon",
      shape: { points: upper.concat(lower.reverse()) },
      style: { fill, stroke: "none" },
      clipPath: { type: "rect", shape: { x: cs.x, y: cs.y, width: cs.width, height: cs.height } },
      silent: true,
    };
  };
}

function buildOption() {
  const grid: any[] = [];
  const xAxis: any[] = [];
  const yAxis: any[] = [];
  const bands: any[] = [];
  const lines: any[] = [];
  const graphic: any[] = [];

  panels.forEach((p, i) => {
    const [l, t, w, h] = p.box;
    grid.push({ left: l, top: t, width: w, height: h, show: true, borderColor: "#4a4a4a", borderWidth: 1, backgroundColor: "#ffffff" });
    const labelStyle = { fontSize: 10, fontFamily: FONT, color: "#262626" };
    const split = { show: true, lineStyle: { color: "#e8e8e8", width: 0.8 } };
    xAxis.push({
      type: "value", gridIndex: i, min: p.xr[0], max: p.xr[1], minInterval: p.xr[2], maxInterval: p.xr[2],
      axisLine: { show: false }, axisTick: { show: false }, splitLine: split,
      axisLabel: { ...labelStyle, margin: 5, formatter: (v: number) => tickText(v, p.xr[2], 1) },
    });
    yAxis.push({
      type: "value", gridIndex: i, min: p.yr[0], max: p.yr[1], minInterval: p.yr[2], maxInterval: p.yr[2],
      axisLine: { show: false }, axisTick: { show: false }, splitLine: split,
      axisLabel: { ...labelStyle, margin: 5, formatter: (v: number) => tickText(v, p.yr[2], p.yDec) },
    });

    p.runs.forEach((r) => {
      const n = r.y.length;
      bands.push({
        type: "custom", xAxisIndex: i, yAxisIndex: i, silent: true, z: 1,
        data: r.y.map((v, k) => {
          const s = sdAt(r.sd, k, n);
          return [r.x[k], v - s, v + s];
        }),
        encode: { x: 0, y: [1, 2] },
        renderItem: bandRenderer(BAND_COLORS[r.m]),
      });
      lines.push({
        type: "line", name: METHODS[r.m], xAxisIndex: i, yAxisIndex: i,
        data: r.y.map((v, k) => [r.x[k], v]), symbol: "none", silent: true,
        lineStyle: { color: METHOD_COLORS[r.m], width: 1.6 }, z: 3,
      });
    });

    const cx = l + w / 2;
    const bottom = t + h;
    graphic.push({
      type: "text", x: cx, y: t - 9,
      style: { text: p.title, font: `bold 13px ${FONT}`, fill: "#000", align: "center", verticalAlign: "middle", textAlign: "center", textVerticalAlign: "middle" },
    });
    graphic.push({
      type: "text", x: cx, y: bottom + 23.5,
      style: { text: "Timesteps", font: `12px ${FONT}`, fill: "#1a1a1a", align: "center", verticalAlign: "middle", textAlign: "center", textVerticalAlign: "middle" },
    });
    graphic.push({
      type: "text", x: l + w, y: bottom + p.expDy,
      style: { text: p.exp, font: `8px ${FONT}`, fill: "#333", align: "right", verticalAlign: "middle", textAlign: "right", textVerticalAlign: "middle" },
    });
    graphic.push({
      type: "text", x: p.ylabelX, y: t + h / 2, rotation: Math.PI / 2,
      style: { text: p.ylabel, font: `12px ${FONT}`, fill: "#1a1a1a", align: "center", verticalAlign: "middle", textAlign: "center", textVerticalAlign: "middle" },
    });
  });

  // legend strip along the bottom edge
  const legendY = 845;
  graphic.push({
    type: "rect", shape: { x: 380.5, y: 833.5, width: 520, height: 24, r: 3 },
    style: { fill: "#ffffff", stroke: "#d4d4d4", lineWidth: 1 }, z: 10,
  });
  const legendLineX = [386, 480, 573, 656, 740];
  METHODS.forEach((name, k) => {
    const x0 = legendLineX[k];
    graphic.push({
      type: "line", shape: { x1: x0, y1: legendY, x2: x0 + 26, y2: legendY },
      style: { stroke: METHOD_COLORS[k], lineWidth: 1.8 }, z: 11,
    });
    graphic.push({
      type: "text", x: x0 + 33, y: legendY,
      style: { text: name, font: `12px ${FONT}`, fill: "#1a1a1a", align: "left", verticalAlign: "middle", textAlign: "left", textVerticalAlign: "middle" }, z: 11,
    });
  });
  graphic.push({
    type: "rect", shape: { x: 824, y: legendY - 5, width: 25, height: 10 },
    style: { fill: "#dcdcdc", stroke: "#cfcfcf", lineWidth: 0.5 }, z: 11,
  });
  graphic.push({
    type: "text", x: 857, y: legendY,
    style: { text: "\u00b11 std", font: `12px ${FONT}`, fill: "#1a1a1a", align: "left", verticalAlign: "middle", textAlign: "left", textVerticalAlign: "middle" }, z: 11,
  });

  return {
    animation: false,
    backgroundColor: "#ffffff",
    textStyle: { fontFamily: FONT },
    grid,
    xAxis,
    yAxis,
    series: [...bands, ...lines],
    graphic,
  };
}

export default function App() {
  const ref = useRef<HTMLDivElement>(null);
  useEffect(() => {
    if (!ref.current) return;
    const chart = echarts.init(ref.current, undefined, { renderer: "svg" });
    chart.setOption(buildOption() as any);
    return () => chart.dispose();
  }, []);
  return (
    <div
      ref={ref}
      style={{ position: "fixed", left: 0, top: 0, width: 1280, height: 861, background: "#ffffff" }}
    />
  );
}
